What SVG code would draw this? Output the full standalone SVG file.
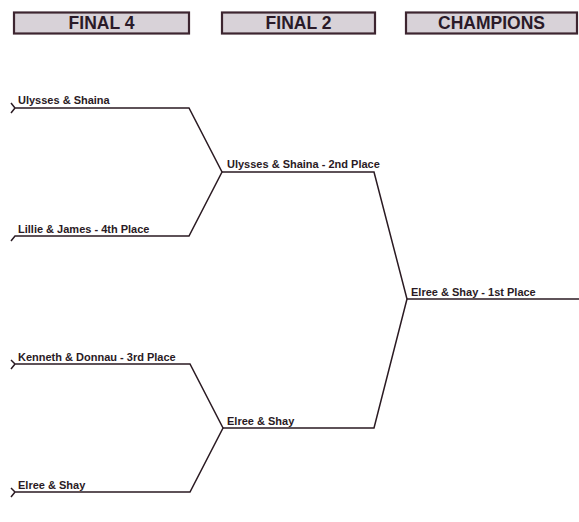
<svg xmlns="http://www.w3.org/2000/svg" width="579" height="522" viewBox="0 0 579 522">
<style>
.hdr{fill:#d8d2d8;stroke:#3d2530;stroke-width:2.2}
.ht{font-family:"Liberation Sans",Arial,sans-serif;font-weight:bold;font-size:17.5px;fill:#2a1a28;text-anchor:middle}
.lbl{font-family:"Liberation Sans",Arial,sans-serif;font-weight:bold;font-size:11px;fill:#2a1a24}
.ln{fill:none;stroke:#2a1a22;stroke-width:1.5;stroke-linejoin:miter}
</style>
<rect width="579" height="522" fill="#ffffff"/>
<g id="header-final4"><rect class="hdr" x="14" y="12.5" width="175" height="21"/><text class="ht" x="101.5" y="28.5">FINAL 4</text></g>
<g id="header-final2"><rect class="hdr" x="222" y="12.5" width="153" height="21"/><text class="ht" x="298.5" y="28.5">FINAL 2</text></g>
<g id="header-champions"><rect class="hdr" x="406" y="12.5" width="171" height="21"/><text class="ht" x="491.5" y="28.5">CHAMPIONS</text></g>
<g id="connectors">
<path class="ln" d="M11,103 L15,108 L11,113 M15,108 L189,108 L222,172 L189,236 L15,236 L11,241"/>
<path class="ln" d="M11,360 L15,364 L11,369 M15,364 L190,364 L223,428 L190,492 L15,492 L11,497 M15,492 L11,488"/>
<path class="ln" d="M222,172 L374,172 L407,299 L374,428 L223,428"/>
<path class="ln" d="M407,299 L579,299"/>
</g>
<g id="node-ulysses"><text class="lbl" x="18" y="104">Ulysses &amp; Shaina</text></g>
<g id="node-lillie"><text class="lbl" x="18" y="233">Lillie &amp; James - 4th Place</text></g>
<g id="node-kenneth"><text class="lbl" x="18" y="361">Kenneth &amp; Donnau - 3rd Place</text></g>
<g id="node-elree1"><text class="lbl" x="18" y="489">Elree &amp; Shay</text></g>
<g id="node-ulysses2"><text class="lbl" x="227" y="168">Ulysses &amp; Shaina - 2nd Place</text></g>
<g id="node-elree2"><text class="lbl" x="227" y="425">Elree &amp; Shay</text></g>
<g id="node-champion"><text class="lbl" x="411" y="296">Elree &amp; Shay - 1st Place</text></g>
</svg>
